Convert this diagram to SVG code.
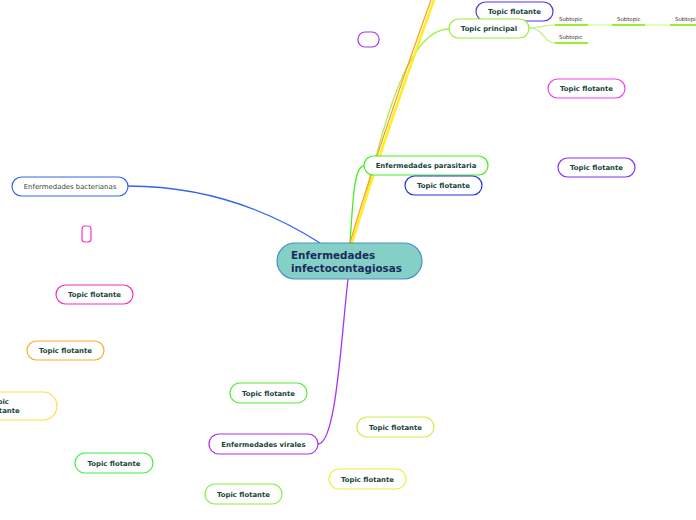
<svg xmlns="http://www.w3.org/2000/svg" width="696" height="520" viewBox="0 0 696 520">
<style>
.n{fill:#fff;stroke-width:1.2}
.t{font-family:"DejaVu Sans",Verdana,sans-serif;font-size:6.9px;font-weight:bold;fill:#17453a;text-anchor:middle}
.s{font-family:"DejaVu Sans",Verdana,sans-serif;font-size:5.4px;fill:#333}
.c{fill:none}
</style>
<rect width="696" height="520" fill="#fff"/>
<g id="connectors">
<path class="c" d="M128,186 C200,186 262,206 320,243" stroke="#3366ee" stroke-width="1.3"/>
<path class="c" d="M348,279 C341,340 336,444 318,444" stroke="#aa33ee" stroke-width="1.3"/>
<path class="c" d="M350,243 C353,200 354,166 364,166" stroke="#44ee22" stroke-width="1.3"/>
<path class="c" d="M352,243 C372,190 395,29 449,29" stroke="#aaee55" stroke-width="1.3"/>
<path class="c" d="M352,243 Q380,150 434,0" stroke="#ffee22" stroke-width="2.5"/>
<path class="c" d="M350,243 Q377,150 431,0" stroke="#ff9922" stroke-width="1.2"/>
<path class="c" d="M529,28 C540,28 545,25 555,25" stroke="#bbf088" stroke-width="1.2"/>
<path class="c" d="M529,28 C545,28 543,43 555,43" stroke="#bbf088" stroke-width="1.2"/>
<path class="c" d="M588,25 H612 M645,25 H670" stroke="#ddffbb" stroke-width="2"/>
<path class="c" d="M555,25 H588 M612,25 H645 M670,25 H700 M555,43 H588" stroke="#99ee33" stroke-width="2"/>
</g>
<g id="center">
<rect x="277" y="243" width="145" height="36" rx="18" fill="#84d0c6" stroke="#4a90c8" stroke-width="1.2"/>
<text x="291" y="259" font-family="DejaVu Sans,Verdana,sans-serif" font-size="10.4" font-weight="bold" fill="#1a2b5c">Enfermedades</text>
<text x="291" y="272" font-family="DejaVu Sans,Verdana,sans-serif" font-size="10.4" font-weight="bold" fill="#1a2b5c">infectocontagiosas</text>
</g>
<g id="tf1"><rect class="n" x="476" y="2" width="77" height="19" rx="9.5" stroke="#5533ee"/><text class="t" x="514.5" y="14">Topic flotante</text></g>
<g id="principal"><rect class="n" x="449" y="19" width="80" height="19" rx="9.5" stroke="#99ee33"/><text class="t" x="489" y="31">Topic principal</text></g>
<g id="sub1"><text class="s" x="559" y="21">Subtopic</text></g>
<g id="sub2"><text class="s" x="617" y="21">Subtopic</text></g>
<g id="sub3"><text class="s" x="675" y="21">Subtopic</text></g>
<g id="sub4"><text class="s" x="559" y="39">Subtopic</text></g>
<g id="empty1"><rect class="n" x="358" y="32" width="21" height="15" rx="7" stroke="#aa33ee"/></g>
<g id="tf2"><rect class="n" x="548" y="79" width="77" height="19" rx="9.5" stroke="#ee44ee"/><text class="t" x="586.5" y="91">Topic flotante</text></g>
<g id="tf3"><rect class="n" x="558" y="158" width="77" height="19" rx="9.5" stroke="#8833ee"/><text class="t" x="596.5" y="170">Topic flotante</text></g>
<g id="parasitaria"><rect class="n" x="364" y="156" width="124" height="19" rx="9.5" stroke="#44ee22"/><text class="t" x="426" y="168">Enfermedades parasitaria</text></g>
<g id="tf4"><rect class="n" x="405" y="176" width="77" height="19" rx="9.5" stroke="#2233dd"/><text class="t" x="443.5" y="188">Topic flotante</text></g>
<g id="bacterianas"><rect class="n" x="12" y="177" width="116" height="19" rx="9.5" stroke="#3366ee"/><text x="70" y="189" font-family="DejaVu Sans,Verdana,sans-serif" font-size="6.9" fill="#2e4a4a" text-anchor="middle">Enfermedades bacterianas</text></g>
<g id="empty2"><rect class="n" x="82" y="226" width="9" height="16" rx="3" stroke="#ff33cc"/></g>
<g id="tf5"><rect class="n" x="56" y="285" width="77" height="19" rx="9.5" stroke="#ee33bb"/><text class="t" x="94.5" y="297">Topic flotante</text></g>
<g id="tf6"><rect class="n" x="27" y="341" width="77" height="19" rx="9.5" stroke="#ffaa33"/><text class="t" x="65.5" y="353">Topic flotante</text></g>
<g id="tf7"><rect class="n" x="-40" y="392" width="97" height="28" rx="14" stroke="#ffdd44"/><text class="t" x="-11" y="404" style="text-anchor:start">Topic</text><text class="t" x="-11" y="413" style="text-anchor:start">flotante</text></g>
<g id="tf8"><rect class="n" x="230" y="383" width="77" height="20" rx="10" stroke="#55ee33"/><text class="t" x="268.5" y="396">Topic flotante</text></g>
<g id="virales"><rect class="n" x="209" y="434" width="109" height="20" rx="10" stroke="#aa33ee"/><text class="t" x="263.5" y="447">Enfermedades virales</text></g>
<g id="tf9"><rect class="n" x="357" y="417" width="77" height="20" rx="10" stroke="#ccee44"/><text class="t" x="395.5" y="430">Topic flotante</text></g>
<g id="tf10"><rect class="n" x="329" y="469" width="77" height="20" rx="10" stroke="#eeee44"/><text class="t" x="367.5" y="482">Topic flotante</text></g>
<g id="tf11"><rect class="n" x="75" y="453" width="78" height="20" rx="10" stroke="#44ee44"/><text class="t" x="114" y="466">Topic flotante</text></g>
<g id="tf12"><rect class="n" x="205" y="484" width="77" height="20" rx="10" stroke="#88ee44"/><text class="t" x="243.5" y="497">Topic flotante</text></g>
</svg>
